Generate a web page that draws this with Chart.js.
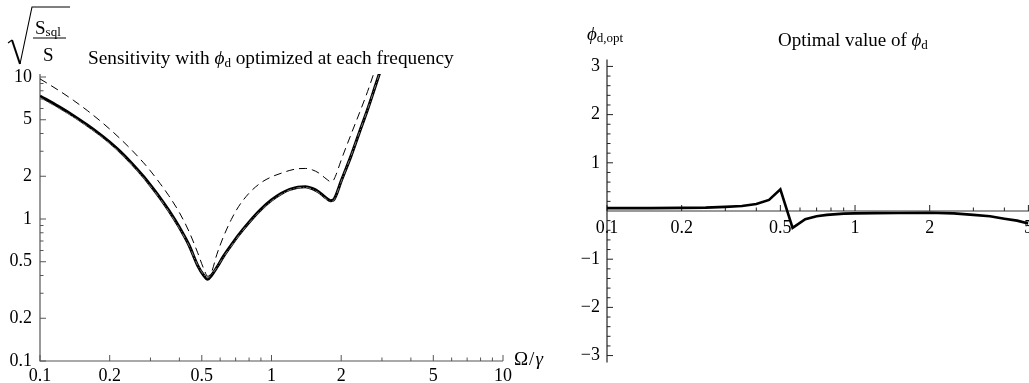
<!DOCTYPE html>
<html><head><meta charset="utf-8">
<script src="https://cdn.jsdelivr.net/npm/chart.js@4"></script>
<style>
html,body{margin:0;padding:0;background:#fff;width:1029px;height:383px;overflow:hidden;}
#cL{position:absolute;left:0;top:0;}
#cR{position:absolute;left:520px;top:0;}
</style></head><body>
<canvas id="cL" width="560" height="383"></canvas>
<canvas id="cR" width="509" height="383"></canvas>
<script>
// ---------- data: left panel (sensitivity) ----------
const omega = [0.1,0.12,0.14,0.16,0.18,0.2,0.22,0.25,0.28,0.3,0.33,0.36,0.4,0.44,0.48,0.51,0.53,0.55,0.58,0.62,0.67,0.72,0.8,0.9,1,1.1,1.2,1.3,1.4,1.5,1.6,1.7,1.75,1.8,1.85,1.9,2,2.2,2.4,2.6,2.8,3];
const sensOpt = [7.35,6.21,5.32,4.59,3.99,3.48,3.03,2.45,1.99,1.73,1.41,1.15,0.874,0.656,0.47,0.4,0.376,0.4,0.455,0.545,0.655,0.77,0.95,1.17,1.36,1.51,1.615,1.675,1.69,1.64,1.55,1.43,1.38,1.345,1.36,1.47,1.85,2.75,4.1,5.9,8.5,12];
const sensAlt = [7.15,6.05,5.2,4.49,3.9,3.4,2.97,2.4,1.95,1.7,1.39,1.13,0.86,0.65,0.472,0.405,0.385,0.405,0.455,0.54,0.645,0.76,0.94,1.15,1.34,1.49,1.6,1.66,1.67,1.62,1.53,1.41,1.36,1.33,1.345,1.46,1.84,2.75,4.1,5.9,8.5,12];
const sensDash = [9.7,8.08,6.82,5.81,4.98,4.3,3.73,3.04,2.49,2.18,1.78,1.46,1.11,0.818,0.578,0.445,0.395,0.42,0.56,0.75,0.99,1.22,1.52,1.8,1.98,2.1,2.2,2.26,2.27,2.22,2.11,1.95,1.88,1.83,1.87,2.05,2.6,3.9,5.6,7.9,11.2,15];
const leftXTicks = [0.1,0.2,0.5,1,2,5,10];
const leftXTickLabels = ['0.1','0.2','0.5','1','2','5','10'];
const leftXMinor = [0.3,0.4,0.6,0.7,0.8,0.9,3,4,6,7,8,9];
const leftYTicks = [0.1,0.2,0.5,1,2,5,10];
const leftYTickLabels = ['0.1','0.2','0.5','1','2','5','10'];
const leftYMinor = [0.3,0.4,0.6,0.7,0.8,0.9,3,4,6,7,8,9];

// ---------- data: right panel (optimal phi_d) ----------
const omegaR = [0.1,0.15,0.2,0.25,0.3,0.35,0.4,0.45,0.5,0.56,0.63,0.7,0.77,0.9,1,1.2,1.5,2,2.5,3,3.5,4,4.5,5];
const phiOpt = [0.06,0.06,0.065,0.07,0.085,0.105,0.145,0.23,0.45,-0.35,-0.17,-0.11,-0.08,-0.055,-0.05,-0.045,-0.04,-0.035,-0.05,-0.08,-0.11,-0.16,-0.2,-0.26];
const rightXTicks = [0.1,0.2,0.5,1,2,5];
const rightXTickLabels = ['0.1','0.2','0.5','1','2','5'];
const rightXMinor = [0.3,0.4,0.6,0.7,0.8,0.9,3,4];
const rightYTicks = [-3,-2,-1,1,2,3];
const rightYTickLabels = ['\u22123','\u22122','\u22121','1','2','3'];
const rightYMinor = [-2.8,-2.6,-2.4,-2.2,-1.8,-1.6,-1.4,-1.2,-0.8,-0.6,-0.4,-0.2,0.2,0.4,0.6,0.8,1.2,1.4,1.6,1.8,2.2,2.4,2.6,2.8];

const FAM = '"Liberation Serif","Times New Roman",serif';
const TICKSIZE = 18;
const pts = (xs, ys) => xs.map((x, i) => ({x: x, y: ys[i]}));

function drawTicks(ctx, scale, values, axisPix, len, horizontal) {
  values.forEach(v => {
    const p = scale.getPixelForValue(v);
    ctx.beginPath();
    if (horizontal) { ctx.moveTo(p, axisPix); ctx.lineTo(p, axisPix - len); }
    else { ctx.moveTo(axisPix, p); ctx.lineTo(axisPix + len, p); }
    ctx.stroke();
  });
}
function rich(ctx, parts, x, y) {
  ctx.textBaseline = 'alphabetic'; ctx.textAlign = 'left'; ctx.fillStyle = '#000';
  parts.forEach(p => {
    ctx.font = p.f;
    ctx.fillText(p.t, x, y + (p.dy || 0));
    x += ctx.measureText(p.t).width + (p.gap || 0);
  });
  return x;
}

const leftAxes = {
  id: 'leftAxes',
  beforeDatasetsDraw(chart) {
    const {ctx, chartArea: a, scales: {x, y}} = chart;
    ctx.save();
    ctx.strokeStyle = '#555'; ctx.lineWidth = 1.2;
    ctx.beginPath(); ctx.moveTo(a.left, a.top); ctx.lineTo(a.left, a.bottom); ctx.lineTo(a.right, a.bottom); ctx.stroke();
    ctx.lineWidth = 1;
    drawTicks(ctx, x, leftXTicks, a.bottom, 6, true);
    drawTicks(ctx, x, leftXMinor, a.bottom, 3.5, true);
    drawTicks(ctx, y, leftYTicks, a.left, 6, false);
    drawTicks(ctx, y, leftYMinor, a.left, 3.5, false);
    ctx.restore();
  },
  afterDraw(chart) {
    const ctx = chart.ctx;
    ctx.save();
    // sqrt(S_sql / S)
    ctx.strokeStyle = '#000';
    ctx.lineWidth = 1.1;
    ctx.beginPath(); ctx.moveTo(8, 43); ctx.lineTo(12, 40); ctx.stroke();
    ctx.lineWidth = 2;
    ctx.beginPath(); ctx.moveTo(12, 40); ctx.lineTo(20, 64); ctx.stroke();
    ctx.lineWidth = 1.1;
    ctx.beginPath(); ctx.moveTo(20, 64); ctx.lineTo(32, 7); ctx.lineTo(70, 7); ctx.stroke();
    rich(ctx, [{t: 'S', f: '19px ' + FAM}, {t: 'sql', f: '13px ' + FAM, dy: 2}], 35, 34);
    ctx.lineWidth = 1;
    ctx.beginPath(); ctx.moveTo(33, 38); ctx.lineTo(66, 38); ctx.stroke();
    rich(ctx, [{t: 'S', f: '19px ' + FAM}], 43, 61);
    // title
    rich(ctx, [
      {t: 'Sensitivity with ', f: '19.3px ' + FAM},
      {t: '\u03D5', f: 'italic 19.3px ' + FAM},
      {t: 'd', f: '13px ' + FAM, dy: 3},
      {t: ' optimized at each frequency', f: '19.3px ' + FAM}
    ], 88, 64);
    // x axis label
    rich(ctx, [{t: '\u03A9', f: '19px ' + FAM, gap: 1}, {t: '/', f: '19px ' + FAM, gap: 1}, {t: '\u03B3', f: 'italic 19px ' + FAM}], 514, 365);
    ctx.restore();
  }
};

const rightAxes = {
  id: 'rightAxes',
  beforeDatasetsDraw(chart) {
    const {ctx, chartArea: a, scales: {x, y}} = chart;
    const y0 = y.getPixelForValue(0);
    ctx.save();
    ctx.strokeStyle = '#777'; ctx.lineWidth = 1.6;
    ctx.beginPath(); ctx.moveTo(a.left, y0); ctx.lineTo(a.right + 2, y0); ctx.stroke();
    ctx.strokeStyle = '#222'; ctx.lineWidth = 1.2;
    ctx.beginPath(); ctx.moveTo(a.left, a.top); ctx.lineTo(a.left, a.bottom); ctx.stroke();
    ctx.lineWidth = 1;
    drawTicks(ctx, x, rightXTicks, y0, 6, true);
    drawTicks(ctx, x, rightXMinor, y0, 3.5, true);
    drawTicks(ctx, y, rightYTicks, a.left, 6, false);
    drawTicks(ctx, y, rightYMinor, a.left, 3.5, false);
    ctx.restore();
  },
  afterDraw(chart) {
    const ctx = chart.ctx;
    ctx.save();
    rich(ctx, [{t: '\u03D5', f: 'italic 19px ' + FAM}, {t: 'd,opt', f: '13px ' + FAM, dy: 2}], 67, 40);
    rich(ctx, [
      {t: 'Optimal value of ', f: '19px ' + FAM},
      {t: '\u03D5', f: 'italic 19px ' + FAM},
      {t: 'd', f: '13px ' + FAM, dy: 3}
    ], 258, 46);
    ctx.restore();
  }
};

const tickFont = {family: FAM, size: TICKSIZE};

new Chart(document.getElementById('cL'), {
  type: 'line',
  data: {datasets: [
    {data: pts(omega, sensDash), borderColor: '#000', borderWidth: 1, borderDash: [8, 5], pointRadius: 0, cubicInterpolationMode: 'monotone'},
    {data: pts(omega, sensAlt), borderColor: '#777', borderWidth: 1, borderDash: [5, 2, 1, 2], pointRadius: 0, cubicInterpolationMode: 'monotone'},
    {data: pts(omega, sensOpt), borderColor: '#000', borderWidth: 3, pointRadius: 0, cubicInterpolationMode: 'monotone'}
  ]},
  options: {
    responsive: false, animation: false, events: [],
    layout: {padding: {top: 74, left: 0, right: 57, bottom: 0}},
    plugins: {legend: {display: false}, tooltip: {enabled: false}},
    scales: {
      x: {type: 'logarithmic', min: 0.1, max: 10, position: 'bottom',
        grid: {display: false, drawTicks: false}, border: {display: false},
        afterBuildTicks: s => { s.ticks = leftXTicks.map(v => ({value: v})); },
        ticks: {autoSkip: false, maxRotation: 0, minRotation: 0, padding: 4, color: '#000', font: tickFont,
          callback: (v, i) => leftXTickLabels[i]},
        afterFit: s => { s.height = 22; s.paddingLeft = 0; s.paddingRight = 0; }
      },
      y: {type: 'logarithmic', min: 0.1, max: 10.5, position: 'left',
        grid: {display: false, drawTicks: false}, border: {display: false},
        afterBuildTicks: s => { s.ticks = leftYTicks.map(v => ({value: v})); },
        ticks: {autoSkip: false, padding: 8, color: '#000', font: tickFont,
          callback: (v, i) => leftYTickLabels[i]},
        afterFit: s => { s.width = 40; s.paddingTop = 0; s.paddingBottom = 0; }
      }
    }
  },
  plugins: [leftAxes]
});

new Chart(document.getElementById('cR'), {
  type: 'line',
  data: {datasets: [
    {data: pts(omegaR, phiOpt), borderColor: '#000', borderWidth: 2.6, pointRadius: 0, tension: 0}
  ]},
  options: {
    responsive: false, animation: false, events: [],
    layout: {padding: {top: 59.6, left: 0, right: 0.6, bottom: 20.6}},
    plugins: {legend: {display: false}, tooltip: {enabled: false}},
    scales: {
      x: {type: 'logarithmic', min: 0.1, max: 5, position: {y: 0},
        grid: {display: false, drawTicks: false}, border: {display: false},
        afterBuildTicks: s => { s.ticks = rightXTicks.map(v => ({value: v})); },
        ticks: {autoSkip: false, maxRotation: 0, minRotation: 0, padding: 6, color: '#000', font: tickFont,
          callback: (v, i) => rightXTickLabels[i]},
        afterFit: s => { s.height = 0; s.paddingLeft = 0; s.paddingRight = 0; }
      },
      y: {type: 'linear', min: -Math.PI, max: Math.PI, position: 'left',
        grid: {display: false, drawTicks: false}, border: {display: false},
        afterBuildTicks: s => { s.ticks = rightYTicks.map(v => ({value: v})); },
        ticks: {autoSkip: false, padding: 7, color: '#000', font: tickFont,
          callback: (v, i) => rightYTickLabels[i]},
        afterFit: s => { s.width = 87; s.paddingTop = 0; s.paddingBottom = 0; }
      }
    }
  },
  plugins: [rightAxes]
});
</script>
</body></html>
